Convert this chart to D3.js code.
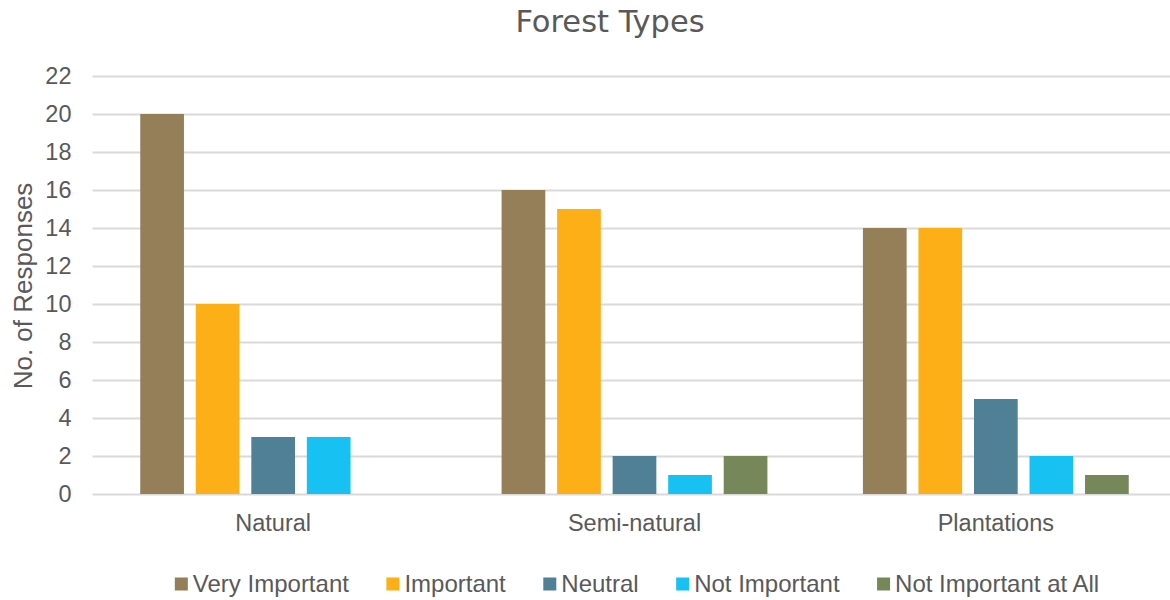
<!DOCTYPE html>
<html>
<head>
<meta charset="utf-8">
<script src="https://cdn.jsdelivr.net/npm/d3@7"></script>
<style>
  html, body { margin: 0; padding: 0; background: #fff; }
  svg { display: block; }
</style>
</head>
<body>
<svg id="chart" width="1170" height="600"></svg>
<script>
// Survey responses on the importance of each forest type
const categories = ["Natural", "Semi-natural", "Plantations"];
const seriesNames = ["Very Important", "Important", "Neutral", "Not Important", "Not Important at All"];
const veryImportant = [20, 16, 14];
const important = [10, 15, 14];
const neutral = [3, 2, 5];
const notImportant = [3, 1, 2];
const notImportantAtAll = [0, 2, 1];
const yTicks = [0, 2, 4, 6, 8, 10, 12, 14, 16, 18, 20, 22];
const seriesColors = ["#957F58", "#FCAF17", "#4F8095", "#17C1F2", "#76885A"];

const seriesValues = [veryImportant, important, neutral, notImportant, notImportantAtAll];
const rows = categories.map((c, i) => ({
  category: c,
  values: seriesNames.map((s, j) => ({ series: s, value: seriesValues[j][i] }))
}));

const svg = d3.select("#chart");
const textColor = "#595959";
const armFont = "'Liberation Sans', Arial, sans-serif";

const plot = { left: 92.5, right: 1176.5, top: 76, bottom: 494 };

const x0 = d3.scaleBand().domain(categories).range([plot.left, plot.right]).padding(0);
const x1 = d3.scaleBand().domain(seriesNames).range([0, x0.bandwidth()])
  .paddingInner(0.213).paddingOuter(0.86);
const y = d3.scaleLinear().domain([0, 22]).range([plot.bottom, plot.top]);
const color = d3.scaleOrdinal().domain(seriesNames).range(seriesColors);

// Horizontal gridlines with value labels
const yAxis = d3.axisLeft(y).tickValues(yTicks).tickSize(-(plot.right - plot.left)).tickPadding(21);
const gy = svg.append("g").attr("transform", `translate(${plot.left},0)`).call(yAxis);
gy.select(".domain").remove();
gy.selectAll(".tick line").attr("stroke", "#D9D9D9").attr("stroke-width", 2);
gy.selectAll(".tick text")
  .attr("fill", textColor).style("font-family", armFont).style("font-size", "23.5px");

// Category labels
const xAxis = d3.axisBottom(x0).tickSize(0).tickPadding(20);
const gx = svg.append("g").attr("transform", `translate(0,${plot.bottom})`).call(xAxis);
gx.select(".domain").remove();
gx.selectAll(".tick text")
  .attr("fill", textColor).style("font-family", armFont).style("font-size", "23.5px");

// Bars
svg.append("g").selectAll("g").data(rows).join("g")
  .attr("transform", d => `translate(${x0(d.category)},0)`)
  .selectAll("rect").data(d => d.values).join("rect")
  .attr("x", d => x1(d.series))
  .attr("y", d => y(d.value))
  .attr("width", x1.bandwidth())
  .attr("height", d => y(0) - y(d.value))
  .attr("fill", d => color(d.series));

// Title
svg.append("text")
  .attr("x", 610).attr("y", 31.5)
  .attr("text-anchor", "middle")
  .attr("fill", textColor)
  .style("font-family", "'DejaVu Sans', Verdana, sans-serif")
  .style("font-size", "30.5px")
  .text("Forest Types");

// Y axis title
svg.append("text")
  .attr("transform", `translate(32,286) rotate(-90)`)
  .attr("text-anchor", "middle")
  .attr("fill", textColor)
  .style("font-family", armFont)
  .style("font-size", "26px")
  .text("No. of Responses");

// Legend
const legend = svg.append("g");
const swatch = 13, swatchGap = 5, itemGap = 37.5;
let cursor = 0;
seriesNames.forEach(name => {
  const item = legend.append("g").attr("transform", `translate(${cursor},0)`);
  item.append("rect").attr("x", 0).attr("y", -14).attr("width", swatch).attr("height", swatch)
    .attr("fill", color(name));
  const t = item.append("text").attr("x", swatch + swatchGap).attr("y", 0)
    .attr("fill", textColor).style("font-family", armFont).style("font-size", "24px")
    .text(name);
  cursor += swatch + swatchGap + t.node().getComputedTextLength() + itemGap;
});
const legendWidth = cursor - itemGap;
legend.attr("transform", `translate(${637 - legendWidth / 2},591.5)`);
</script>
</body>
</html>
